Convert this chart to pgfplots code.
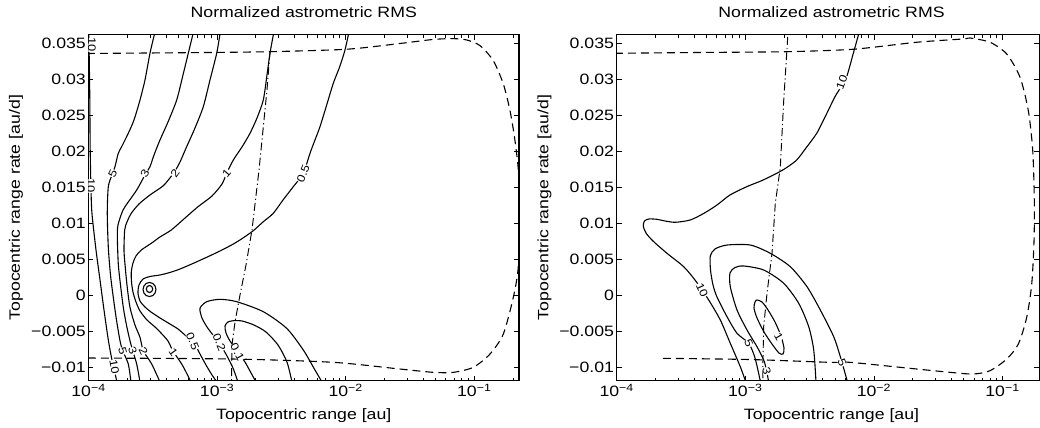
\documentclass[border=0pt]{standalone}
\usepackage{fontspec}
\setmainfont{Liberation Sans}[FakeStretch=1.18]
\usepackage{pgfplots}
\pgfplotsset{compat=1.18}
\tikzset{
  cont/.style={black, line width=1.1bp, smooth, tension=0.45},
  dsh/.style={black, line width=1.1bp, smooth, tension=0.45, dash pattern=on 8bp off 5bp},
  dshdot/.style={black, line width=0.95bp, dash pattern=on 8bp off 3bp on 1.2bp off 3bp},
  lbl/.style={fill=white, inner sep=0.2bp, font=\fontsize{11bp}{12bp}\selectfont},
}
\pgfplotsset{
  every axis/.append style={
    scale only axis, height=346bp,
    ymin=-0.0119, ymax=0.03615,
    scaled y ticks=false,
    xtick={1e-4,1e-3,1e-2,1e-1},
    xticklabels={10\textsuperscript{−4},10\textsuperscript{−3},10\textsuperscript{−2},10\textsuperscript{−1}},
    minor xtick={2e-4,3e-4,4e-4,5e-4,6e-4,7e-4,8e-4,9e-4,2e-3,3e-3,4e-3,5e-3,6e-3,7e-3,8e-3,9e-3,2e-2,3e-2,4e-2,5e-2,6e-2,7e-2,8e-2,9e-2,2e-1},
    ytick={-0.01,-0.005,0,0.005,0.01,0.015,0.02,0.025,0.03,0.035},
    yticklabels={−0.01,−0.005,0,0.005,0.01,0.015,0.02,0.025,0.03,0.035},
    tick align=inside, major tick length=5bp, minor tick length=3bp,
    tick style={black, line width=0.7bp},
    axis line style={line width=1.2bp},
    every tick label/.append style={font=\fontsize{15bp}{18bp}\selectfont},
    yticklabel style={inner sep=2.5bp},
    title style={font=\fontsize{15bp}{18bp}\selectfont, at={(0.5,1)}, anchor=base, yshift=11.4bp},
    label style={font=\fontsize{15bp}{18bp}\selectfont},
    xlabel style={at={(axis description cs:0.5,0)}, anchor=base, yshift=-39bp},
    no markers,
  },
}
\begin{document}
\begin{tikzpicture}
\path[use as bounding box] (0,0) rectangle (1040bp,428bp);
% ================= LEFT PANEL =================
\begin{axis}[xmode=log, xmin=1e-4, xmax=0.2226, at={(88.5bp,47.3bp)}, anchor=south west, width=430.5bp,
  title={Normalized astrometric RMS},
  xlabel={Topocentric range [au]},
  ylabel={Topocentric range rate [au/d]},
  ylabel style={at={(axis description cs:-0.1591,0.5)}, anchor=base}]
% level 10
\addplot[cont] coordinates {(1.004e-4,0.03625)(1.014e-4,0.032639)(1.024e-4,0.027083)(1.031e-4,0.020139)(1.046e-4,0.014583)(1.065e-4,0.01125)(1.144e-4,0.00625)(1.229e-4,0.002083)(1.320e-4,-0.002083)(1.426e-4,-0.00625)(1.523e-4,-0.009028)(1.666e-4,-0.012083)};
% level 5
\addplot[cont] coordinates {(3.262e-4,0.03625)(3.007e-4,0.03357)(2.750e-4,0.02986)(2.515e-4,0.02708)(2.259e-4,0.02431)(2.039e-4,0.02246)(1.822e-4,0.02069)(1.705e-4,0.01968)(1.607e-4,0.01782)(1.523e-4,0.01667)(1.426e-4,0.01504)(1.400e-4,0.01135)(1.426e-4,0.00663)(1.483e-4,0.00278)(1.559e-4,-0.00032)(1.651e-4,-0.00347)(1.758e-4,-0.00635)(1.845e-4,-0.00774)(2.039e-4,-0.00958)(2.140e-4,-0.01208)};
% level 3
\addplot[cont] coordinates {(6.494e-4,0.03625)(5.970e-4,0.03357)(5.431e-4,0.03056)(4.851e-4,0.02708)(4.152e-4,0.02403)(3.597e-4,0.02153)(3.232e-4,0.01944)(3.007e-4,0.01782)(2.750e-4,0.01667)(2.370e-4,0.01458)(1.922e-4,0.01226)(1.812e-4,0.01135)(1.696e-4,0.00972)(1.675e-4,0.00833)(1.705e-4,0.00431)(1.774e-4,0.00139)(1.865e-4,-0.00171)(1.974e-4,-0.00417)(2.102e-4,-0.00635)(2.207e-4,-0.00774)(2.370e-4,-0.00958)(2.515e-4,-0.01208)};
% level 2
\addplot[cont] coordinates {(1.053e-3,0.03625)(9.929e-4,0.03357)(8.806e-4,0.02986)(7.811e-4,0.02615)(6.731e-4,0.02319)(5.801e-4,0.02060)(5.146e-4,0.01847)(4.706e-4,0.01722)(4.279e-4,0.01621)(3.796e-4,0.01514)(3.007e-4,0.01389)(2.470e-4,0.01264)(2.152e-4,0.01135)(1.992e-4,0.01014)(1.912e-4,0.00903)(1.888e-4,0.00625)(1.922e-4,0.00431)(1.992e-4,0.00139)(2.102e-4,-0.00171)(2.299e-4,-0.00417)(2.515e-4,-0.00588)(2.668e-4,-0.00774)(3.101e-4,-0.00958)(3.597e-4,-0.01208)};
% level 1
\addplot[cont] coordinates {(2.745e-3,0.03625)(2.578e-3,0.03357)(2.443e-3,0.03056)(2.287e-3,0.02708)(2.043e-3,0.02458)(1.803e-3,0.02246)(1.562e-3,0.02056)(1.337e-3,0.01875)(1.187e-3,0.01690)(1.092e-3,0.01542)(9.128e-4,0.01375)(7.105e-4,0.01226)(5.629e-4,0.01069)(4.404e-4,0.00903)(3.597e-4,0.00806)(3.079e-4,0.00718)(2.574e-4,0.00625)(2.341e-4,0.00542)(2.218e-4,0.00444)(2.152e-4,0.00319)(2.160e-4,0.00181)(2.218e-4,0.00042)(2.341e-4,-0.00097)(2.515e-4,-0.00222)(2.851e-4,-0.00347)(3.290e-4,-0.00444)(3.728e-4,-0.00542)(4.152e-4,-0.00639)(4.541e-4,-0.00778)(5.267e-4,-0.00949)(5.730e-4,-0.01069)(6.266e-4,-0.01208)};
% level 0.5
\addplot[cont] coordinates {(1.052e-2,0.03625)(9.874e-3,0.03403)(9.030e-3,0.03181)(8.009e-3,0.02940)(7.154e-3,0.02653)(6.313e-3,0.02338)(5.771e-3,0.02153)(5.277e-3,0.01968)(4.681e-3,0.01690)(3.912e-3,0.01504)(3.254e-3,0.01319)(2.735e-3,0.01135)(2.275e-3,0.01014)(1.912e-3,0.00893)(1.590e-3,0.00792)(1.337e-3,0.00708)(1.053e-3,0.00611)(8.301e-4,0.00524)(6.494e-4,0.00438)(5.146e-4,0.00361)(4.302e-4,0.00313)(3.597e-4,0.00278)(3.007e-4,0.00257)(2.654e-4,0.00222)(2.470e-4,0.00139)(2.426e-4,0.00028)(2.515e-4,-0.00083)(2.750e-4,-0.00167)(3.062e-4,-0.00236)(3.597e-4,-0.00319)(4.302e-4,-0.00403)(4.966e-4,-0.00472)(5.629e-4,-0.00556)(6.529e-4,-0.00653)(7.362e-4,-0.00819)(8.197e-4,-0.00972)(9.128e-4,-0.01111)(9.982e-4,-0.01208)};
% small loops
\addplot[cont, smooth cycle] coordinates {(3.348e-4,0.000764)(3.295e-4,0.00125)(3.161e-4,0.001611)(2.980e-4,0.001736)(2.813e-4,0.001611)(2.697e-4,0.00125)(2.654e-4,0.000764)(2.697e-4,0.000278)(2.813e-4,-0.0000833)(2.980e-4,-0.000208)(3.161e-4,-0.0000833)(3.295e-4,0.000278)};
\addplot[cont, smooth cycle] coordinates {(3.158e-4,0.000833)(3.104e-4,0.001181)(2.980e-4,0.001319)(2.863e-4,0.001181)(2.815e-4,0.000833)(2.863e-4,0.000486)(2.980e-4,0.000347)(3.104e-4,0.000486)};
% level 0.2
\addplot[cont] coordinates {(6.543e-3,-0.01208)(5.771e-3,-0.01042)(4.681e-3,-0.00764)(3.476e-3,-0.00463)(2.287e-3,-0.00232)(1.421e-3,-0.00093)(1.053e-3,-0.00060)(8.301e-4,-0.00093)(7.362e-4,-0.00185)(7.632e-4,-0.00319)(8.347e-4,-0.00444)(9.293e-4,-0.00556)(1.053e-3,-0.00681)(1.194e-3,-0.00847)(1.329e-3,-0.01014)(1.454e-3,-0.01208)};
% level 0.1
\addplot[cont] coordinates {(3.823e-3,-0.01208)(3.495e-3,-0.00931)(2.975e-3,-0.00694)(2.400e-3,-0.00514)(1.936e-3,-0.00417)(1.562e-3,-0.00361)(1.337e-3,-0.00357)(1.215e-3,-0.00375)(1.152e-3,-0.00431)(1.173e-3,-0.00528)(1.260e-3,-0.00639)(1.421e-3,-0.00764)(1.648e-3,-0.00931)(1.803e-3,-0.01056)(2.007e-3,-0.01208)};
% dashed boundary
\addplot[dsh] coordinates {(9.734e-5,0.03354)(3.007e-4,0.03361)(8.806e-4,0.03368)(2.578e-3,0.03379)(1.018e-2,0.03413)(2.644e-2,0.03493)(4.800e-2,0.03549)(6.866e-2,0.03560)(8.727e-2,0.03542)(0.1108,0.03463)(0.1405,0.03254)(0.1681,0.02931)(0.1895,0.02560)(0.2072,0.02143)(0.2214,0.01667)(0.2266,0.00903)(0.2187,0.00347)(0.2011,-0.00032)(0.1681,-0.00542)(0.1325,-0.00819)(9.822e-2,-0.01004)(6.866e-2,-0.01074)(4.800e-2,-0.01074)(2.644e-2,-0.01028)(8.009e-3,-0.00935)(1.337e-3,-0.00889)(9.734e-5,-0.00875)};
% dash-dot
\addplot[dshdot] coordinates {(2.578e-3,0.03379)(2.443e-3,0.02847)(2.275e-3,0.02292)(2.118e-3,0.01736)(1.989e-3,0.01319)(1.868e-3,0.00903)(1.678e-3,0.00417)(1.507e-3,0)(1.378e-3,-0.00375)(1.305e-3,-0.00694)(1.294e-3,-0.01208)};
% labels
\node[lbl, rotate=-90] at (axis cs:1.065e-4,0.03472) {10};
\node[lbl, rotate=-90] at (axis cs:1.046e-4,0.01514) {10};
\node[lbl, rotate=65] at (axis cs:1.543e-4,0.0169) {5};
\node[lbl, rotate=60] at (axis cs:2.750e-4,0.0169) {3};
\node[lbl, rotate=55] at (axis cs:4.706e-4,0.0169) {2};
\node[lbl, rotate=50] at (axis cs:1.187e-3,0.0169) {1};
\node[lbl, rotate=68] at (axis cs:4.681e-3,0.0169) {0.5};
\node[lbl, rotate=-80] at (axis cs:1.587e-4,-0.01004) {10};
\node[lbl, rotate=-75] at (axis cs:1.845e-4,-0.00778) {5};
\node[lbl, rotate=-70] at (axis cs:2.207e-4,-0.00778) {3};
\node[lbl, rotate=-65] at (axis cs:2.668e-4,-0.00778) {2};
\node[lbl, rotate=-55] at (axis cs:4.565e-4,-0.00792) {1};
\node[lbl, rotate=-68] at (axis cs:6.45e-4,-0.00640) {0.5};
\node[lbl, rotate=-68] at (axis cs:1.040e-3,-0.00655) {0.2};
\node[lbl, rotate=-62] at (axis cs:1.440e-3,-0.00790) {0.1};
\end{axis}
% ================= RIGHT PANEL =================
\begin{axis}[xmode=log, xmin=1e-4, xmax=0.1932, at={(616.7bp,47.3bp)}, anchor=south west, width=422.6bp,
  title={Normalized astrometric RMS},
  xlabel={Topocentric range [au]},
  ylabel={Topocentric range rate [au/d]},
  ylabel style={at={(axis description cs:-0.1614,0.5)}, anchor=base},
  title style={xshift=3.5bp}, xlabel style={xshift=3.5bp}]
% level 10
\addplot[cont] coordinates {(7.617e-3,0.03625)(6.917e-3,0.03357)(6.145e-3,0.03032)(5.619e-3,0.02903)(4.983e-3,0.02754)(4.242e-3,0.02500)(3.592e-3,0.02246)(2.965e-3,0.02042)(2.510e-3,0.01875)(2.073e-3,0.01764)(1.754e-3,0.01690)(1.349e-3,0.01590)(1.025e-3,0.01504)(7.603e-4,0.01389)(6.025e-4,0.01250)(4.773e-4,0.01135)(3.735e-4,0.01042)(2.855e-4,0.01010)(2.375e-4,0.01028)(2.058e-4,0.01051)(1.783e-4,0.01056)(1.645e-4,0.01028)(1.610e-4,0.00958)(1.690e-4,0.00861)(1.915e-4,0.00750)(2.461e-4,0.00579)(3.319e-4,0.00393)(4.064e-4,0.00208)(4.605e-4,0.00069)(5.192e-4,-0.00069)(6.393e-4,-0.00347)(7.645e-4,-0.00671)(9.143e-4,-0.00996)(1.009e-3,-0.01208)};
% level 5
\addplot[cont] coordinates {(6.233e-3,-0.01208)(5.480e-3,-0.00857)(4.869e-3,-0.00579)(3.830e-3,-0.00208)(3.019e-3,0.00115)(2.238e-3,0.00393)(1.564e-3,0.00579)(1.094e-3,0.00694)(7.206e-4,0.00694)(5.812e-4,0.00639)(5.343e-4,0.00542)(5.363e-4,0.00347)(5.609e-4,0.00139)(6.025e-4,-0.00028)(7.206e-4,-0.00301)(8.619e-4,-0.00532)(1.063e-3,-0.00671)(1.190e-3,-0.00875)(1.313e-3,-0.01208)};
% level 3
\addplot[cont] coordinates {(3.546e-3,-0.01208)(3.404e-3,-0.00764)(3.112e-3,-0.00440)(2.601e-3,-0.00115)(1.989e-3,0.00163)(1.390e-3,0.00347)(9.718e-4,0.00403)(8.317e-4,0.00382)(7.603e-4,0.00306)(7.645e-4,0.00115)(8.619e-4,-0.00208)(1.031e-3,-0.00486)(1.233e-3,-0.00718)(1.390e-3,-0.00903)(1.460e-3,-0.01042)(1.520e-3,-0.01208)};
% level 1 (closed)
\addplot[cont, smooth cycle] coordinates {(1.233e-3,-0.00069)(1.349e-3,-0.00097)(1.502e-3,-0.00208)(1.702e-3,-0.00375)(1.895e-3,-0.00569)(1.999e-3,-0.00736)(1.964e-3,-0.00819)(1.828e-3,-0.00806)(1.613e-3,-0.00681)(1.398e-3,-0.00514)(1.233e-3,-0.00319)(1.168e-3,-0.00181)(1.190e-3,-0.00097)};
% dashed boundary
\addplot[dsh] coordinates {(9.700e-5,0.03357)(4.444e-4,0.03368)(2.099e-3,0.03379)(6.917e-3,0.03413)(2.152e-2,0.03510)(4.957e-2,0.03556)(5.588e-2,0.03569)(7.993e-2,0.03510)(0.1078,0.03347)(0.1368,0.03024)(0.1587,0.02560)(0.1718,0.02004)(0.1767,0.01310)(0.1758,0.00754)(0.1687,0.00153)(0.1542,-0.00310)(0.1327,-0.00681)(0.1078,-0.00889)(7.993e-2,-0.01051)(5.930e-2,-0.01097)(3.905e-2,-0.01074)(1.596e-2,-0.01004)(6.518e-3,-0.00935)(4.556e-3,-0.00935)(1.088e-3,-0.00896)(2.238e-4,-0.00879)};
% dash-dot
\addplot[dshdot] coordinates {(2.137e-3,0.03583)(2.099e-3,0.03357)(1.989e-3,0.02699)(1.872e-3,0.01774)(1.711e-3,0.01274)(1.613e-3,0.00579)(1.475e-3,0.00024)(1.390e-3,-0.00440)(1.373e-3,-0.00857)(1.366e-3,-0.01208)};
% labels
\node[lbl, rotate=70] at (axis cs:5.619e-3,0.02958) {10};
\node[lbl, rotate=-65] at (axis cs:4.605e-4,0.00069) {10};
\node[lbl, rotate=-65] at (axis cs:1.063e-3,-0.00671) {5};
\node[lbl, rotate=-70] at (axis cs:5.650e-3,-0.00938) {5};
\node[lbl, rotate=-75] at (axis cs:1.470e-3,-0.01056) {3};
\node[lbl, rotate=-60] at (axis cs:1.818e-3,-0.00583) {1};
\end{axis}
\end{tikzpicture}
\end{document}
